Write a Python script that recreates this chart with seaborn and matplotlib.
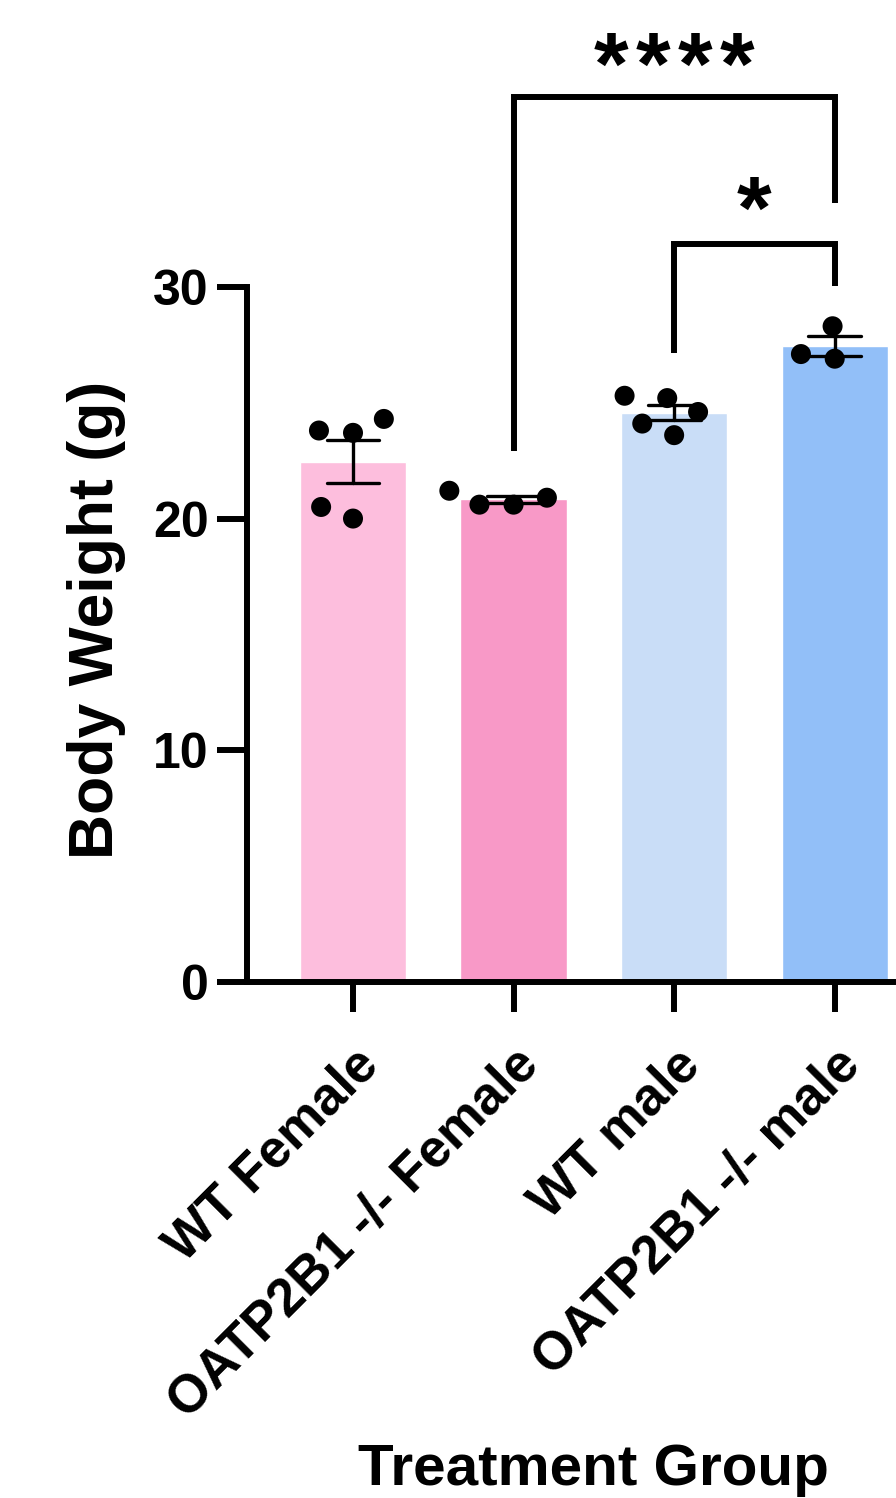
import numpy as np
import pandas as pd
import matplotlib
matplotlib.use("Agg")
import matplotlib.pyplot as plt
import seaborn as sns

# ---- data ----
groups = ["WT Female", "OATP2B1 -/- Female", "WT male", "OATP2B1 -/- male"]
wt_female = [23.8, 24.3, 23.7, 20.0, 20.5]
oatp_female = [20.6, 21.2, 20.6, 20.9]
wt_male = [25.3, 23.6, 24.6, 25.2, 24.1]
oatp_male = [28.3, 26.9, 27.1]
bar_colors = ["#FDBEDD", "#F899C7", "#C9DDF7", "#92BFF8"]
yticks = [0, 10, 20, 30]
sig_pairs = [("OATP2B1 -/- Female", "OATP2B1 -/- male", "****"),
             ("WT male", "OATP2B1 -/- male", "*")]
ylabel = "Body Weight (g)"
xlabel = "Treatment Group"

values = [wt_female, oatp_female, wt_male, oatp_male]
df = pd.DataFrame({
    "group": [g for g, v in zip(groups, values) for _ in v],
    "weight": [x for v in values for x in v],
})

sns.set_style("ticks")
plt.rcParams["font.family"] = ["Liberation Sans", "DejaVu Sans"]
plt.rcParams["font.weight"] = "bold"
for k in ["text.color", "axes.labelcolor", "xtick.color", "ytick.color",
          "axes.edgecolor", "xtick.labelcolor", "ytick.labelcolor"]:
    plt.rcParams[k] = "black"

fig = plt.figure(figsize=(8.96, 14.98), dpi=100)
ax = fig.add_axes([0.2757, 0.3445, 0.7455, 0.4640])

sns.barplot(data=df, x="group", y="weight", hue="group", order=groups,
            hue_order=groups, palette=bar_colors, legend=False,
            errorbar="se", capsize=0.33, width=0.662, saturation=1,
            err_kws={"color": "black", "linewidth": 2.4}, ax=ax)
# invisible wide edge widens the swarm spacing, as in the reference
sns.swarmplot(data=df, x="group", y="weight", order=groups, color="black",
              size=14.4, linewidth=9, edgecolor="none", ax=ax, zorder=5,
              warn_thresh=1.0)

ax.set_xlim(-0.66, 3.5)
ax.set_ylim(0, 30)
ax.set_yticks(yticks)
ax.set_yticklabels([str(t) for t in yticks])
sns.despine(ax=ax)
for s in ["left", "bottom"]:
    ax.spines[s].set_linewidth(4.3)
    ax.spines[s].set_color("black")
    ax.spines[s].set_capstyle("projecting")
ax.tick_params(axis="both", length=21.6, width=4.3, direction="out",
               labelsize=36, pad=6, color="black", labelcolor="black")
ax.set_xticks(range(len(groups)))
ax.set_xticklabels(groups, rotation=45, ha="right", rotation_mode="anchor",
                   fontsize=38, fontweight="bold")
ax.tick_params(axis="x", pad=20)
for lab in ax.get_yticklabels():
    lab.set_fontweight("bold")

ax.set_ylabel(ylabel, fontsize=45, fontweight="bold", color="black")
ax.yaxis.set_label_coords(-0.181, 0.521)
ax.set_xlabel(xlabel, fontsize=42, fontweight="bold", color="black")
ax.xaxis.set_label_coords(0.519, -0.664)

# significance brackets
pos = {g: i for i, g in enumerate(groups)}
bracket_specs = [(38.2, 22.9, 33.6, 39.3), (31.85, 27.15, 30.05, 33.1)]
for (g1, g2, label), (top, yl, yr, ty) in zip(sig_pairs, bracket_specs):
    x1, x2 = pos[g1], pos[g2]
    ax.plot([x1, x1, x2, x2], [yl, top, top, yr], color="black",
            linewidth=4.3, clip_on=False, solid_joinstyle="miter",
            solid_capstyle="butt")
    ax.text((x1 + x2) / 2, ty, "\u200a".join(label), ha="center", va="center",
            fontsize=64, fontweight="bold", clip_on=False, color="black")

fig.savefig("out.png", dpi=100, facecolor="white")
